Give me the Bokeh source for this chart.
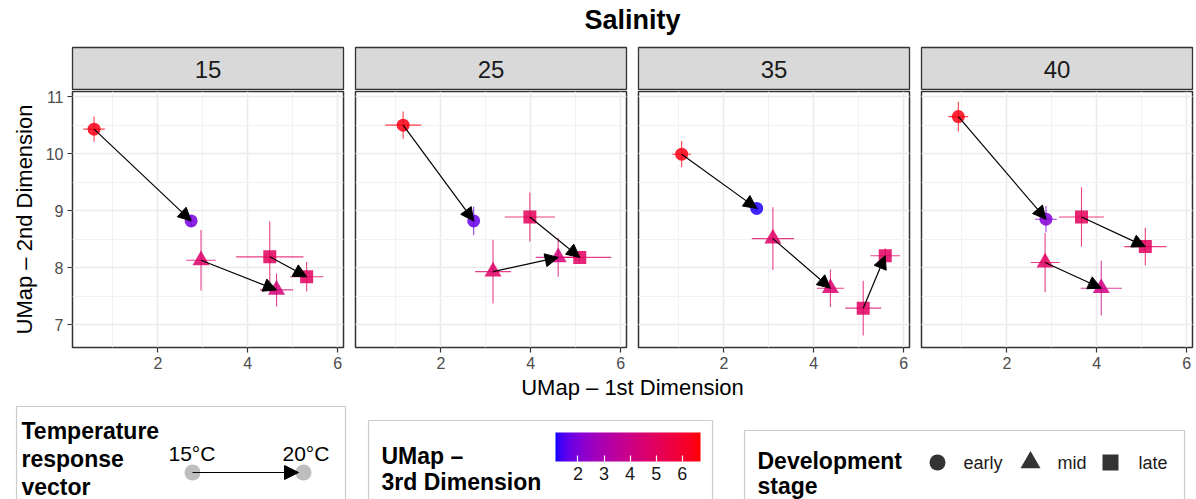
import numpy as np
from bokeh.plotting import figure
from bokeh.models import (Range1d, FixedTicker, Grid, ColumnDataSource, Arrow, NormalHead,
                          LinearColorMapper, ColorBar)
from bokeh.layouts import row, column
from bokeh.transform import transform
from bokeh.core.properties import value
from bokeh.embed import file_html
from bokeh.resources import INLINE

# ---------------- data ----------------
salinity_levels = ["15", "25", "35", "40"]
stage_names = ["early", "mid", "late"]
sal = ["15"] * 6 + ["25"] * 6 + ["35"] * 6 + ["40"] * 6
stage = ["early", "early", "mid", "mid", "late", "late"] * 4
temp = [15, 20] * 12
umap1 = [0.58, 2.74, 2.96, 4.64, 4.49, 5.31,
         1.16, 2.73, 3.16, 4.61, 3.98, 5.09,
         1.06, 2.73, 3.09, 4.37, 5.10, 5.59,
         0.92, 2.87, 2.85, 4.10, 3.66, 5.08]
umap2 = [10.43, 8.82, 8.13, 7.61, 8.19, 7.84,
         10.50, 8.82, 7.93, 8.18, 8.89, 8.18,
         9.99, 9.04, 8.51, 7.64, 7.29, 8.21,
         10.65, 8.85, 8.09, 7.64, 8.89, 8.37]
umap1_err = [0.24, 0.08, 0.33, 0.37, 0.75, 0.37,
             0.40, 0.05, 0.40, 0.50, 0.56, 0.70,
             0.21, 0.05, 0.47, 0.30, 0.40, 0.33,
             0.22, 0.24, 0.32, 0.46, 0.50, 0.47]
umap2_err = [0.22, 0.10, 0.53, 0.29, 0.62, 0.26,
             0.24, 0.25, 0.56, 0.34, 0.43, 0.08,
             0.23, 0.05, 0.55, 0.33, 0.48, 0.13,
             0.26, 0.23, 0.52, 0.48, 0.52, 0.33]
umap3 = [6.5, 1.9, 4.7, 4.3, 5.0, 5.0,
         6.5, 1.7, 4.8, 4.3, 5.1, 4.9,
         6.5, 1.2, 4.8, 4.6, 4.9, 4.9,
         6.5, 2.1, 4.9, 4.1, 5.1, 5.0]
umap3_ticks = [2, 3, 4, 5, 6]
x_ticks = [2, 4, 6]
y_ticks = [7, 8, 9, 10, 11]

# ---------------- colour scale: blue -> red interpolated in CIELAB ----------------
M = np.array([[0.4124564, 0.3575761, 0.1804375],
              [0.2126729, 0.7151522, 0.0721750],
              [0.0193339, 0.1191920, 0.9503041]])
Minv = np.linalg.inv(M)
WP = np.array([0.95047, 1.0, 1.08883])


def to_lab(rgb):
    c = np.array(rgb, dtype=float) / 255
    lin = np.where(c <= 0.04045, c / 12.92, ((c + 0.055) / 1.055) ** 2.4)
    xyz = M @ lin / WP
    d = 6 / 29
    f = np.where(xyz > d ** 3, np.cbrt(xyz), xyz / (3 * d * d) + 4 / 29)
    return np.array([116 * f[1] - 16, 500 * (f[0] - f[1]), 200 * (f[1] - f[2])])


def from_lab(lab):
    L, a, b = lab
    fy = (L + 16) / 116
    f = np.array([fy + a / 500, fy, fy - b / 200])
    d = 6 / 29
    xyz = np.where(f > d, f ** 3, 3 * d * d * (f - 4 / 29)) * WP
    lin = np.clip(Minv @ xyz, 0, 1)
    c = np.where(lin <= 0.0031308, 12.92 * lin, 1.055 * lin ** (1 / 2.4) - 0.055)
    c = np.clip(c, 0, 1)
    return "#%02x%02x%02x" % tuple(int(round(v * 255)) for v in c)


lab_lo, lab_hi = to_lab((0, 0, 255)), to_lab((255, 0, 0))
palette = [from_lab(lab_lo + (lab_hi - lab_lo) * t) for t in np.linspace(0, 1, 256)]
mapper = LinearColorMapper(palette=palette, low=1.14, high=6.7)

FONT = value("Liberation Sans")
XR = (0.1, 6.13)
YR = (6.6, 11.09)
FRAME_W, FRAME_H = 271, 256
borders = [(72, 6), (6, 6), (6, 6), (6, 3)]
markers = {"early": ("circle", 13), "mid": ("triangle", 17), "late": ("square", 13)}

columns = []
for i, s in enumerate(salinity_levels):
    bl, br = borders[i]
    # ---- strip ----
    st = figure(frame_width=FRAME_W, frame_height=43, min_border_left=bl, min_border_right=br,
                min_border_top=2, min_border_bottom=0, x_range=Range1d(0, 1), y_range=Range1d(0, 1),
                x_axis_location=None, y_axis_location=None, toolbar_location=None,
                output_backend="svg")
    st.grid.visible = False
    st.background_fill_color = "#D9D9D9"
    st.border_fill_color = "white"
    st.outline_line_color = "#333333"
    st.outline_line_width = 1.3
    st.text(x=[0.5], y=[0.5], text=[s], text_font=FONT, text_font_size="24px",
            text_color="#1A1A1A", text_align="center", text_baseline="middle")

    # ---- panel ----
    idx = [k for k in range(len(sal)) if sal[k] == s]
    p = figure(frame_width=FRAME_W, frame_height=FRAME_H, min_border_left=bl, min_border_right=br,
               min_border_top=1, min_border_bottom=28,
               x_range=Range1d(*XR), y_range=Range1d(*YR),
               y_axis_location="left" if i == 0 else None,
               toolbar_location=None, output_backend="svg")
    p.background_fill_color = "white"
    p.outline_line_color = "#333333"
    p.outline_line_width = 1.5
    xt = FixedTicker(ticks=x_ticks, minor_ticks=[1, 3, 5])
    yt = FixedTicker(ticks=y_ticks, minor_ticks=[6.5, 7.5, 8.5, 9.5, 10.5])
    p.xaxis.ticker = xt
    p.xgrid.ticker = xt
    if i == 0:
        p.yaxis.ticker = yt
        p.ygrid.ticker = yt
        yg = p.ygrid[0]
    else:
        yg = Grid(dimension=1, ticker=yt)
        p.add_layout(yg)
    for g in [p.xgrid[0], yg]:
        g.grid_line_color = "#EBEBEB"
        g.grid_line_width = 1.6
        g.minor_grid_line_color = "#F2F2F2"
        g.minor_grid_line_width = 1.0
    for ax in p.axis:
        ax.axis_line_color = None
        ax.major_tick_line_color = "#333333"
        ax.major_tick_line_width = 1.2
        ax.major_tick_out = 5
        ax.major_tick_in = 0
        ax.minor_tick_line_color = None
        ax.major_label_text_font = "Liberation Sans"
        ax.major_label_text_font_size = "16px"
        ax.major_label_text_color = "#4D4D4D"
        ax.major_label_standoff = 4
    if i == 0:
        p.yaxis.axis_label = "UMap – 2nd Dimension"
        p.yaxis.axis_label_text_font = "Liberation Sans"
        p.yaxis.axis_label_text_font_size = "22px"
        p.yaxis.axis_label_text_font_style = "normal"
        p.yaxis.axis_label_text_color = "black"
        p.yaxis.axis_label_standoff = 6

    src = ColumnDataSource(dict(
        x=[umap1[k] for k in idx], y=[umap2[k] for k in idx],
        x0=[umap1[k] - umap1_err[k] for k in idx], x1=[umap1[k] + umap1_err[k] for k in idx],
        y0=[umap2[k] - umap2_err[k] for k in idx], y1=[umap2[k] + umap2_err[k] for k in idx],
        z=[umap3[k] for k in idx], stage=[stage[k] for k in idx]))
    cmap = transform("z", mapper)
    p.segment(x0="x0", y0="y", x1="x1", y1="y", source=src, line_color=cmap, line_width=1.1, line_alpha=0.75)
    p.segment(x0="x", y0="y0", x1="x", y1="y1", source=src, line_color=cmap, line_width=1.1, line_alpha=0.75)
    for stg in stage_names:
        sub = [k for k in idx if stage[k] == stg]
        ssrc = ColumnDataSource(dict(x=[umap1[k] for k in sub], y=[umap2[k] for k in sub],
                                     z=[umap3[k] for k in sub]))
        mk, sz = markers[stg]
        p.scatter(x="x", y="y", source=ssrc, marker=mk, size=sz, fill_color=transform("z", mapper),
                  line_color=None, fill_alpha=0.85)
    # temperature response vectors (15 -> 20 °C)
    a_src = ColumnDataSource(dict(
        xs=[umap1[k] for k in idx if temp[k] == 15], ys=[umap2[k] for k in idx if temp[k] == 15],
        xe=[umap1[k] for k in idx if temp[k] == 20], ye=[umap2[k] for k in idx if temp[k] == 20]))
    p.add_layout(Arrow(source=a_src, x_start="xs", y_start="ys", x_end="xe", y_end="ye",
                       line_color="black", line_width=1.2,
                       end=NormalHead(size=13, fill_color="black", line_color="black")))
    columns.append(column(st, p, spacing=0))

# ---------------- title ----------------
TH = 45
tf = figure(width=1196, height=TH, x_range=Range1d(0, 1196), y_range=Range1d(TH, 0),
            x_axis_location=None, y_axis_location=None, toolbar_location=None,
            min_border=0, output_backend="svg")
tf.grid.visible = False
tf.outline_line_color = None
tf.text(x=[632], y=[19], text=["Salinity"], text_font=FONT, text_font_size="27px",
        text_font_style="bold", text_color="black", text_align="center", text_baseline="middle")

# ---------------- bottom: x title + legends ----------------
LH = 124
lf = figure(width=1196, height=LH, x_range=Range1d(0, 1196), y_range=Range1d(LH, 0),
            x_axis_location=None, y_axis_location=None, toolbar_location=None,
            min_border=0, output_backend="svg")
lf.grid.visible = False
lf.outline_line_color = None
lf.text(x=[632], y=[12], text=["UMap – 1st Dimension"], text_font=FONT, text_font_size="22px",
        text_color="black", text_align="center", text_baseline="middle")
# legend boxes
lf.quad(left=[16, 368, 744], right=[345, 712, 1184], top=[31, 45, 55], bottom=[140, 140, 140],
        fill_color="white", line_color="#CCCCCC", line_width=1.2)
# temperature vector legend
lf.text(x=[21, 21, 21], y=[55, 83, 111], text=["Temperature", "response", "vector"], text_font=FONT,
        text_font_size="23px", text_font_style="bold", text_color="black", text_baseline="alphabetic")
lf.text(x=[168, 282], y=[78, 78], text=["15°C", "20°C"], text_font=FONT, text_font_size="21px",
        text_color="black", text_baseline="alphabetic")
lf.scatter(x=[192, 303], y=[97, 97], size=16, marker="circle", fill_color="#BEBEBE", line_color=None)
lf.add_layout(Arrow(x_start=192, y_start=97, x_end=298, y_end=97, line_color="black", line_width=1.2,
                    end=NormalHead(size=14, fill_color="black", line_color="black")))
# colour legend
lf.text(x=[381, 381], y=[80, 106], text=["UMap –", "3rd Dimension"], text_font=FONT,
        text_font_size="23px", text_font_style="bold", text_color="black", text_baseline="alphabetic")
cb = ColorBar(color_mapper=mapper, orientation="horizontal", width=145, height=29,
              location=(555, 17), ticker=FixedTicker(ticks=umap3_ticks),
              major_label_text_font="Liberation Sans", major_label_text_font_size="18px",
              major_label_text_color="#1A1A1A", major_tick_line_color="white", major_tick_in=6,
              major_tick_out=0, major_tick_line_width=1.2, minor_tick_line_color=None,
              bar_line_color=None, border_line_color=None, background_fill_alpha=0,
              padding=0, label_standoff=5)
lf.add_layout(cb, "center")
# stage legend
lf.text(x=[757, 757], y=[85, 110], text=["Development", "stage"], text_font=FONT,
        text_font_size="23px", text_font_style="bold", text_color="black", text_baseline="alphabetic")
key_x = [937, 1030, 1110]
for kx, stg in zip(key_x, stage_names):
    mk, sz = markers[stg]
    lf.scatter(x=[kx], y=[87], marker=mk, size=sz + 3, fill_color="#333333", line_color=None)
lf.text(x=[963, 1057, 1138], y=[87, 87, 87], text=stage_names, text_font=FONT, text_font_size="18px",
        text_color="#1A1A1A", text_baseline="middle")

layout = column(tf, row(*columns, spacing=0), lf, spacing=0)
open("out.html", "w").write(file_html(layout, INLINE))
